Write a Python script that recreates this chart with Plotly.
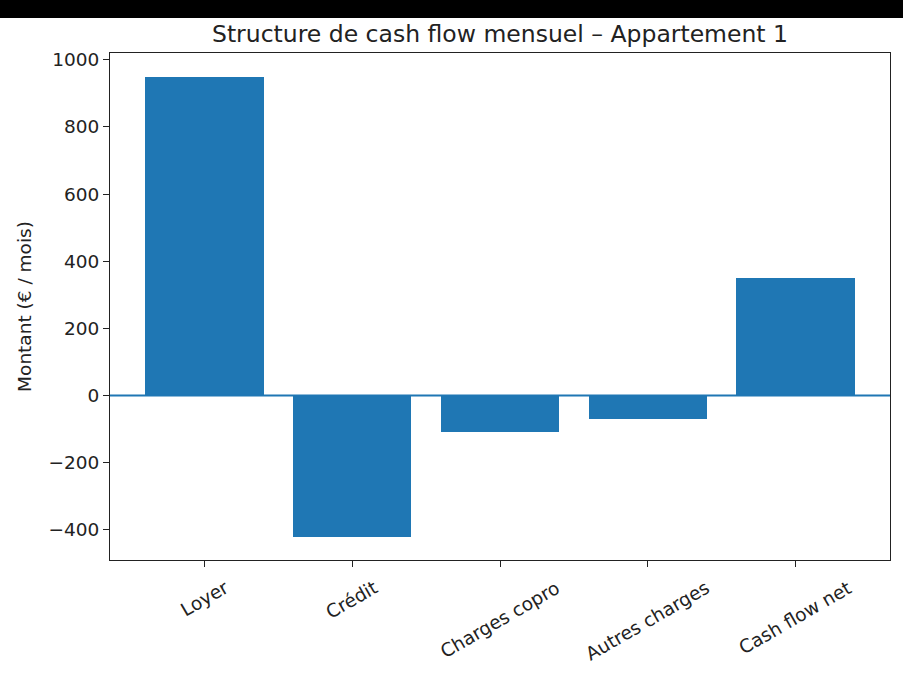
import plotly.graph_objects as go

categories = ["Loyer", "Crédit", "Charges copro", "Autres charges", "Cash flow net"]
values = [950, -420, -110, -70, 350]
title_text = "Structure de cash flow mensuel – Appartement 1"
y_label = "Montant (€ / mois)"
y_ticks = [-400, -200, 0, 200, 400, 600, 800, 1000]

C0 = "#1f77b4"
FONT = "DejaVu Sans"
TICK_SIZE = 18.5
TITLE_SIZE = 23.5

fig = go.Figure()
fig.add_trace(go.Bar(x=list(range(len(categories))), y=values, width=0.8,
                     marker=dict(color=C0, line=dict(width=0)), showlegend=False))

W, H = 903, 677
L, R, T, B = 110, 13, 53, 117

fig.update_layout(
    width=W, height=H,
    margin=dict(l=L, r=R, t=T, b=B, autoexpand=False),
    paper_bgcolor="white", plot_bgcolor="white",
    font=dict(family=FONT, size=TICK_SIZE, color="#222"),
    title=dict(text=title_text, x=0.5, xanchor="center", xref="paper",
               y=1 - 34 / H, yanchor="middle", font=dict(size=TITLE_SIZE, color="#222")),
    bargap=0,
)

xmin, xmax = -0.64, 4.64
fig.update_xaxes(range=[xmin, xmax], tickvals=list(range(len(categories))),
                 showticklabels=False, ticks="outside", ticklen=6, tickwidth=1,
                 tickcolor="#222", showline=True, linecolor="#222", linewidth=1,
                 mirror=True, showgrid=False, zeroline=False)
fig.update_yaxes(range=[-490, 1020], tickvals=y_ticks,
                 ticktext=[("−" + str(-v)) if v < 0 else str(v) for v in y_ticks],
                 ticks="outside", ticklen=6, tickwidth=1, tickcolor="#222",
                 showline=True, linecolor="#222", linewidth=1, mirror=True,
                 showgrid=False, zeroline=False,
                 tickfont=dict(size=TICK_SIZE),
                 title=dict(text=y_label, font=dict(size=TICK_SIZE), standoff=12))

# horizontal line at zero
fig.add_shape(type="line", xref="paper", yref="y", x0=0, x1=1, y0=0, y1=0,
              line=dict(color=C0, width=2))

# rotated category labels, centred under ticks
for i, c in enumerate(categories):
    fig.add_annotation(x=i, xref="x", yref="paper", y=-14 / (H - T - B),
                       text=c, textangle=-30, showarrow=False,
                       xanchor="center", yanchor="top",
                       font=dict(size=TICK_SIZE, color="#222"))

# black band at the top of the screenshot
fig.add_shape(type="rect", xref="paper", yref="paper", x0=-L / (W - L - R),
              x1=1 + R / (W - L - R), y0=1 + (T - 18) / (H - T - B),
              y1=1 + T / (H - T - B), fillcolor="black", line=dict(width=0),
              layer="above")

fig.write_html("out.html", config={"displayModeBar": False},
               post_script="document.body.style.margin='0';document.body.style.padding='0';")
